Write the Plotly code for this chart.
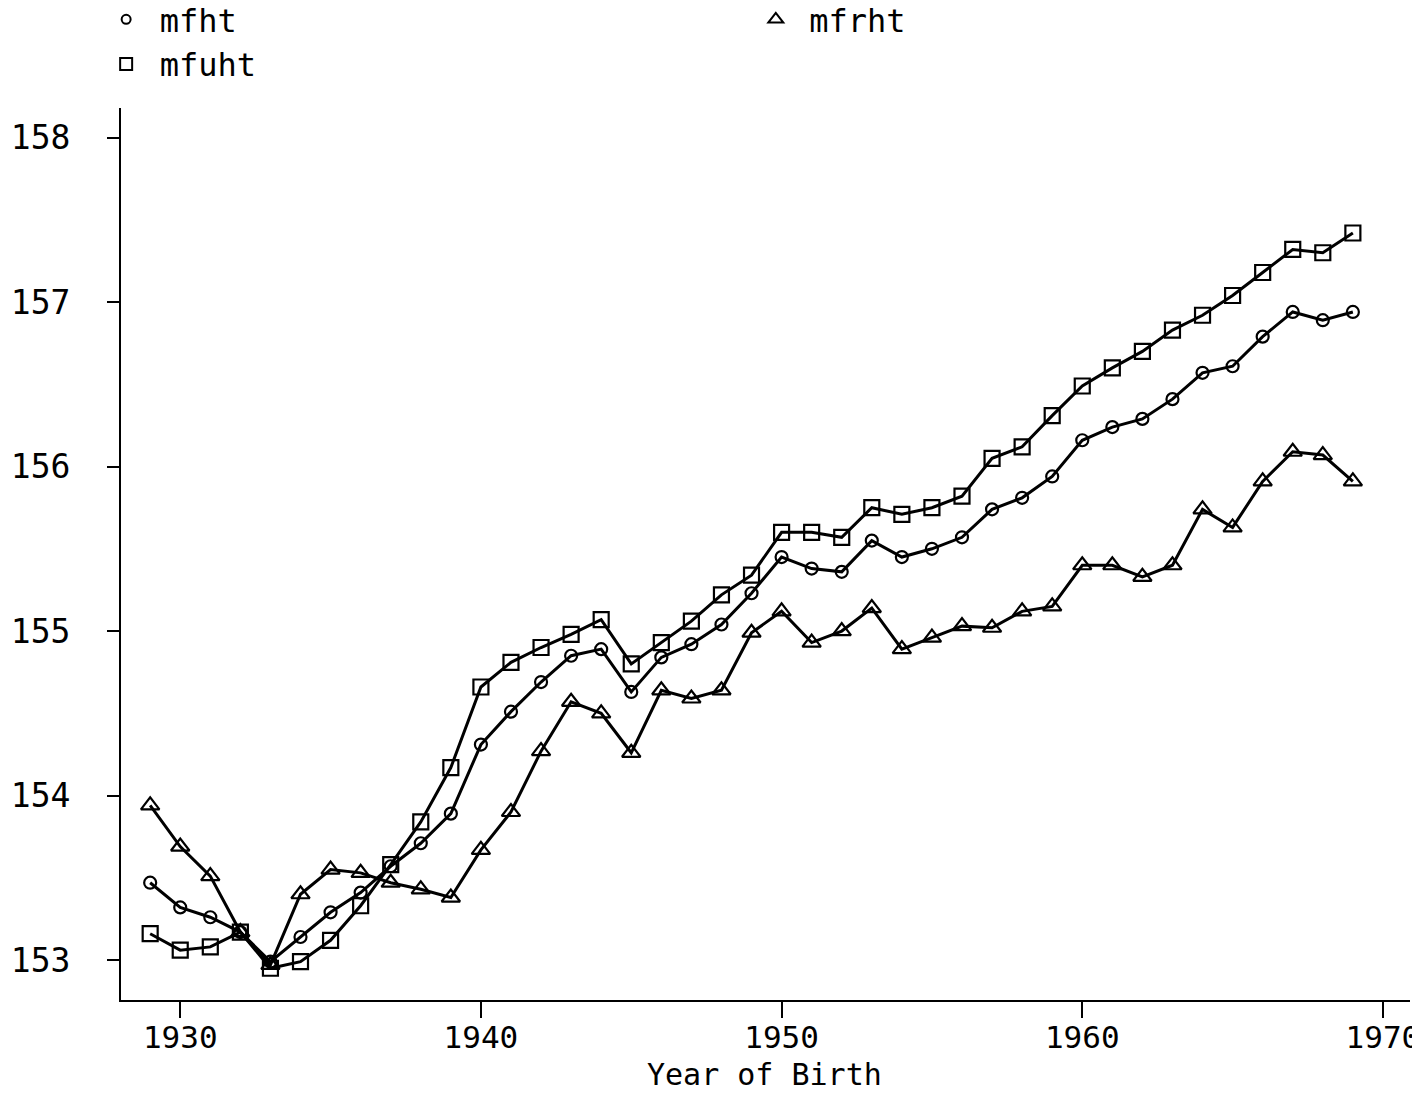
import plotly.graph_objects as go

years = list(range(1929, 1970))

mfht = [153.47, 153.32, 153.26, 153.17, 152.99, 153.14, 153.29, 153.41, 153.57, 153.71,
        153.89, 154.31, 154.51, 154.69, 154.85, 154.89, 154.63, 154.84, 154.92, 155.04,
        155.23, 155.45, 155.38, 155.36, 155.55, 155.45, 155.50, 155.57, 155.74, 155.81,
        155.94, 156.16, 156.24, 156.29, 156.41, 156.57, 156.61, 156.79, 156.94, 156.89,
        156.94]

mfuht = [153.16, 153.06, 153.08, 153.17, 152.95, 152.99, 153.12, 153.33, 153.58, 153.84,
         154.17, 154.66, 154.81, 154.90, 154.98, 155.07, 154.80, 154.93, 155.06, 155.22,
         155.34, 155.60, 155.60, 155.57, 155.75, 155.71, 155.75, 155.82, 156.05, 156.12,
         156.31, 156.49, 156.60, 156.70, 156.83, 156.92, 157.04, 157.18, 157.32, 157.30,
         157.42]

mfrht = [153.94, 153.69, 153.51, 153.17, 152.97, 153.40, 153.55, 153.53, 153.47, 153.43,
         153.38, 153.67, 153.90, 154.27, 154.57, 154.50, 154.26, 154.64, 154.59, 154.64,
         154.99, 155.12, 154.93, 155.00, 155.14, 154.89, 154.96, 155.03, 155.02, 155.12,
         155.15, 155.40, 155.40, 155.33, 155.40, 155.74, 155.63, 155.91, 156.09, 156.07,
         155.91]

x_ticks = [1930, 1940, 1950, 1960, 1970]
y_ticks = [153, 154, 155, 156, 157, 158]
x_title = "Year of Birth"

FONT = "DejaVu Sans Mono"

series = [
    ("mfht", mfht, "circle-open", 12, "legend"),
    ("mfuht", mfuht, "square-open", 15, "legend"),
    ("mfrht", mfrht, "triangle-up-open", 16, "legend2"),
]

fig = go.Figure()
for name, vals, sym, size, _ in series:
    fig.add_trace(go.Scatter(
        x=years, y=vals, mode="lines+markers", name=name, showlegend=False,
        line=dict(color="black", width=3),
        marker=dict(symbol=sym, size=size, color="black", line=dict(color="black", width=2.2)),
    ))
for name, vals, sym, size, lg in series:
    fig.add_trace(go.Scatter(
        x=[None], y=[None], mode="markers", name=name, legend=lg, showlegend=True,
        marker=dict(symbol=sym, size=size - 3, color="black", line=dict(color="black", width=2)),
    ))

fig.add_annotation(
    text=x_title, xref="paper", yref="paper", x=0.499, y=-0.0835,
    xanchor="center", yanchor="middle", showarrow=False, borderpad=0,
    font=dict(family=FONT, size=30, color="black"),
)

fig.update_layout(
    width=1412, height=1094,
    margin=dict(l=121, r=2, t=108, b=94, autoexpand=False),
    paper_bgcolor="white", plot_bgcolor="white",
    font=dict(family=FONT, size=32, color="black"),
    legend=dict(x=-0.022, y=1.13, xanchor="left", yanchor="top", bgcolor="rgba(0,0,0,0)",
                font=dict(family=FONT, size=32), tracegroupgap=0, itemwidth=57),
    legend2=dict(x=0.482, y=1.13, xanchor="left", yanchor="top", bgcolor="rgba(0,0,0,0)",
                 font=dict(family=FONT, size=32), itemwidth=57),
    xaxis=dict(
        range=[1928.03, 1970.9], tickvals=x_ticks, ticktext=[str(t) for t in x_ticks],
        showgrid=False, zeroline=False, showline=True, linecolor="black", linewidth=2,
        ticks="outside", ticklen=16, tickwidth=2, tickcolor="black", automargin=False,
        ticklabeloverflow="allow", ticklabelstandoff=-7,
        tickfont=dict(family=FONT, size=31),
    ),
    yaxis=dict(
        range=[152.757, 158.18], tickvals=y_ticks, ticktext=[str(t) for t in y_ticks],
        showgrid=False, zeroline=False, showline=True, linecolor="black", linewidth=2,
        ticks="outside", ticklen=12, tickwidth=2, tickcolor="black", automargin=False,
        tickfont=dict(family=FONT, size=33), ticklabelstandoff=30,
    ),
)

fig.write_html(
    "out.html",
    config={"displayModeBar": False},
    post_script="document.body.style.margin='0px';document.body.style.padding='0px';"
                "document.documentElement.style.overflow='hidden';document.body.style.overflow='hidden';",
)
